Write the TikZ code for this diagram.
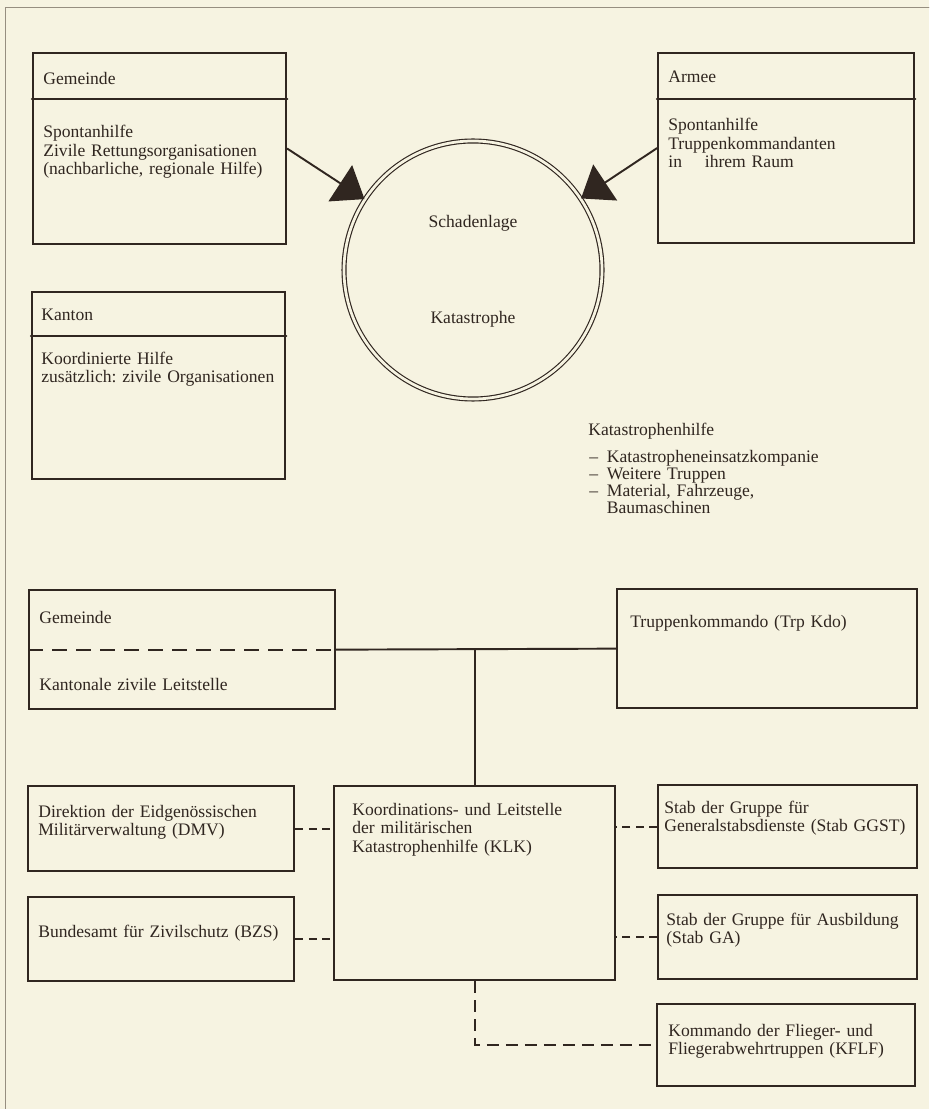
\documentclass[tikz,border=0pt]{standalone}
\usepackage{fontspec}
\setmainfont{Liberation Serif}
\usetikzlibrary{arrows.meta,positioning,calc}
\frenchspacing

\definecolor{paper}{RGB}{246,243,225}
\definecolor{ink}{RGB}{48,38,32}
\definecolor{rand}{RGB}{150,142,128}

\begin{document}
\begin{tikzpicture}[x=0.2mm,y=-0.2mm,line cap=round]
	\tikzstyle{box}=[draw=ink,line width=1.3pt,rectangle,inner sep=0pt,anchor=north west];
	\tikzstyle{txt}=[inner sep=0pt,anchor=base west,align=left,text width=60mm,text=ink,font=\fontsize{10}{10.5}\selectfont];
	\tikzstyle{txtu}=[txt,font=\fontsize{10}{10.8}\selectfont];
	\tikzstyle{mitte}=[inner sep=0pt,anchor=base,text=ink,font=\fontsize{10}{10.5}\selectfont];
	\tikzstyle{strich}=[draw=ink,line width=1.1pt];
	\tikzstyle{link}=[strich,line cap=butt,dash pattern=on 1.6mm off 1.1mm];
	\tikzstyle{pfeil}=[strich,-{Triangle[length=5.8mm,width=8.6mm]}];

	\fill[paper] (0,0) rectangle (929,1109);
	\useasboundingbox (0,0) rectangle (929,1109);
	\draw[rand,line width=0.5pt] (929,7) -- (5,7) -- (5,1109);

	% Schadenlage
	\node[box,minimum width=253*0.2mm,minimum height=191*0.2mm] (gem) at (32,52) {};
	\draw[ink,line width=1.3pt] (gem.west |- 0,99) -- (gem.east |- 0,99);
	\node[txt] (gemK) at ([shift={(11,33)}]gem.north west) {Gemeinde};
	\node[txt] (gemT) at ([shift={(11,86)}]gem.north west) {Spontanhilfe\\Zivile Rettungsorganisationen\\(nachbarliche, regionale Hilfe)};

	\node[box,minimum width=256*0.2mm,minimum height=190*0.2mm] (arm) at (657,52) {};
	\draw[ink,line width=1.3pt] (arm.west |- 0,99) -- (arm.east |- 0,99);
	\node[txt] (armK) at ([shift={(11,31)}]arm.north west) {Armee};
	\node[txt] (armT) at ([shift={(11,79)}]arm.north west) {Spontanhilfe\\Truppenkommandanten\\in\hspace{13pt}ihrem Raum};

	\node[box,minimum width=253*0.2mm,minimum height=187*0.2mm] (kan) at (31,291) {};
	\draw[ink,line width=1.3pt] (kan.west |- 0,336) -- (kan.east |- 0,336);
	\node[txt] (kanK) at ([shift={(10,30)}]kan.north west) {Kanton};
	\node[txt] (kanT) at ([shift={(10,73)}]kan.north west) {Koordinierte Hilfe\\zusätzlich: zivile Organisationen};

	\node[circle,draw=ink,double=paper,double distance=0.55mm,line width=0.65pt,minimum size=258*0.2mm,inner sep=0pt] (kat) at (473,270) {};
	\node[mitte] (katO) at (473,228) {Schadenlage};
	\node[mitte] (katU) at (473,323) {Katastrophe};

	\draw[pfeil] (gem.east) -- (kat);
	\draw[pfeil] (arm.west) -- (kat);

	\node[txt] (khT) at (588,435) {Katastrophenhilfe};
	\node[txt,font=\fontsize{10}{9.8}\selectfont] (khL) at ([shift={(1,27)}]khT.base west) {\begin{tabular}[t]{@{}l@{\hspace{5pt}}l@{}}
		-- & Katastropheneinsatzkompanie\\
		-- & Weitere Truppen\\
		-- & Material, Fahrzeuge,\\
		   & Baumaschinen
	\end{tabular}};

	% Organisation
	\node[box,minimum width=306*0.2mm,minimum height=119*0.2mm] (gk) at (28,589) {};
	\draw[strich,line cap=butt,dash pattern=on 3mm off 1.8mm] (gk.west) -- (gk.east);
	\node[txtu] (gkK) at ([shift={(11,34)}]gk.north west) {Gemeinde};
	\node[txtu] (gkT) at ([shift={(11,101)}]gk.north west) {Kantonale zivile Leitstelle};

	\node[box,minimum width=300*0.2mm,minimum height=119*0.2mm] (trp) at (616,588) {};
	\node[txtu] (trpT) at ([shift={(14,39)}]trp.north west) {Truppenkommando (Trp Kdo)};

	\node[box,minimum width=281*0.2mm,minimum height=194*0.2mm] (klk) at (333,785) {};
	\node[txtu] (klkT) at ([shift={(19,30)}]klk.north west) {Koordinations- und Leitstelle\\der militärischen\\Katastrophenhilfe (KLK)};

	\node[box,minimum width=266*0.2mm,minimum height=85*0.2mm] (dmv) at (27,785) {};
	\node[txtu] (dmvT) at ([shift={(11,32)}]dmv.north west) {Direktion der Eidgenössischen\\Militärverwaltung (DMV)};

	\node[box,minimum width=266*0.2mm,minimum height=84*0.2mm] (bzs) at (27,896) {};
	\node[txtu] (bzsT) at ([shift={(11,41)}]bzs.north west) {Bundesamt für Zivilschutz (BZS)};

	\node[box,minimum width=259*0.2mm,minimum height=83*0.2mm] (ggst) at (657,784) {};
	\node[txtu] (ggstT) at ([shift={(7,29)}]ggst.north west) {Stab der Gruppe für\\Generalstabsdienste (Stab GGST)};

	\node[box,minimum width=259*0.2mm,minimum height=84*0.2mm] (ga) at (657,894) {};
	\node[txtu] (gaT) at ([shift={(9,31)}]ga.north west) {Stab der Gruppe für Ausbildung\\(Stab GA)};

	\node[box,minimum width=258*0.2mm,minimum height=82*0.2mm] (kflf) at (656,1003) {};
	\node[txtu] (kflfT) at ([shift={(12,33)}]kflf.north west) {Kommando der Flieger- und\\Fliegerabwehrtruppen (KFLF)};

	\draw[strich] (gk.east) -- (trp.west);
	\draw[strich] (klk.north) -- (klk.north |- gk.east);
	\draw[link] (dmv.east) -- (dmv.east -| klk.west);
	\draw[link] (bzs.east) -- (bzs.east -| klk.west);
	\draw[link] (ggst.west) -- (ggst.west -| klk.east);
	\draw[link] (ga.west) -- (ga.west -| klk.east);
	\draw[link,dash pattern=on 2.4mm off 1.4mm] (klk.south) |- (kflf.west);
\end{tikzpicture}
\end{document}
